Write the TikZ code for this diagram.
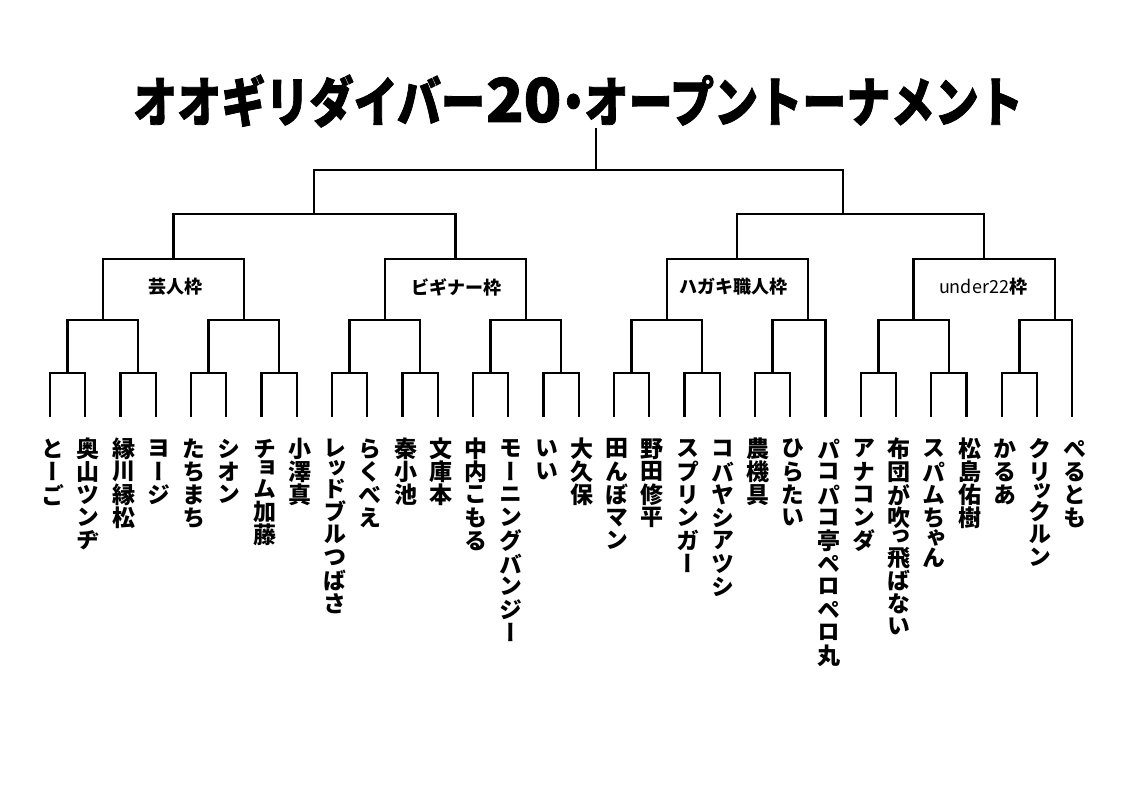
\documentclass[tikz,border=0pt]{standalone}
\usepackage{fontspec}
\newfontfamily\jp{Noto Sans CJK JP}
\newfontfamily\jpt[BoldFeatures={FakeBold=1.5}]{Noto Sans CJK JP}
\newfontfamily\jpv[RawFeature=+vert]{Noto Sans CJK JP}
\makeatletter
\def\vn@end{\vn@end}
\newcommand\vname[1]{\vbox{\offinterlineskip\expandafter\vn@loop#1\vn@end}}
\def\vn@loop#1{%
  \ifx#1\vn@end\else
    \ifcsname vn@small@#1\endcsname\def\vn@h{17pt}\else\def\vn@h{23pt}\fi
    \vbox to \vn@h{\vss\hbox to 24pt{\hss#1\hss}\vss}%
    \expandafter\vn@loop
  \fi}
\@namedef{vn@small@ッ}{}
\@namedef{vn@small@っ}{}
\@namedef{vn@small@ョ}{}
\@namedef{vn@small@ゃ}{}
\makeatother
\begin{document}
\begin{tikzpicture}[x=1pt,y=-1pt,
  br/.style={line width=2.3pt,line join=miter},
  titlestyle/.style={inner sep=0pt,font=\fontsize{54}{60}\selectfont\jpt\bfseries},
  catlabel/.style={inner sep=0pt,font=\fontsize{18}{20}\selectfont\jp\bfseries},
  leafname/.style={inner sep=0pt,anchor=north,font=\fontsize{23}{23}\selectfont\jpv\bfseries}]
\useasboundingbox (0,0) rectangle (1122,793);
\fill[white] (0,0) rectangle (1122,793);
\node[titlestyle] (title) at (578,101) {\scalebox{0.817}[1]{オオギリダイバー\makebox[1.75em]{\scalebox{1.4}[1.12]{20}}\makebox[0.5em]{・}オープントーナメント}};
\coordinate (tf) at (596,128);
% leaves
\foreach \i/\nm in {0/とーご,1/奥山ツンヂ,2/縁川縁松,3/ヨージ,4/たちまち,5/シオン,6/チョム加藤,7/小澤真,
  8/レッドブルつばさ,9/らくべえ,10/秦小池,11/文庫本,12/中内こもる,13/モーニングバンジー,14/いい,15/大久保,
  16/田んぼマン,17/野田修平,18/スプリンガー,19/コバヤシアツシ,20/農機具,21/ひらたい,22/パコパコ亭ペロペロ丸,
  23/アナコンダ,24/布団が吹っ飛ばない,25/スパムちゃん,26/松島佑樹,27/かるあ,28/クリックルン,29/ぺるとも}{
  \pgfmathsetmacro\xx{50+35.25*\i}
  \coordinate (L\i) at (\xx,417);
  \node[leafname] (n\i) at (\xx+3,437) {\vname{\nm}};
}
% pair level
\coordinate (P0) at (67.6,373);  \coordinate (P1) at (138.1,373);
\coordinate (P2) at (208.6,373); \coordinate (P3) at (279.1,373);
\coordinate (P4) at (349.6,373); \coordinate (P5) at (420.1,373);
\coordinate (P6) at (490.6,373); \coordinate (P7) at (561.1,373);
\coordinate (P8) at (631.6,373); \coordinate (P9) at (702.1,373);
\coordinate (P10) at (772.6,373);
\coordinate (P11) at (878.4,373); \coordinate (P12) at (948.9,373);
\coordinate (P13) at (1019.4,373);
% sub level
\coordinate (S0) at (102.9,320); \coordinate (S1) at (243.9,320);
\coordinate (S2) at (384.9,320); \coordinate (S3) at (525.9,320);
\coordinate (S4) at (666.9,320); \coordinate (S5) at (808,320);
\coordinate (S6) at (913.6,320); \coordinate (S7) at (1055,320);
% category level
\coordinate (C0) at (173.4,259); \coordinate (C1) at (455.4,259);
\coordinate (C2) at (737,259);   \coordinate (C3) at (984,259);
% half level
\coordinate (H0) at (314,214); \coordinate (H1) at (843,214);
\coordinate (T) at (596,170);
% brackets
\foreach \a/\b/\p in {0/1/0,2/3/1,4/5/2,6/7/3,8/9/4,10/11/5,12/13/6,14/15/7,16/17/8,18/19/9,20/21/10,23/24/11,25/26/12,27/28/13}{
  \draw[br] (L\a) |- (P\p) -| (L\b);
}
\draw[br] (P0) |- (S0) -| (P1);
\draw[br] (P2) |- (S1) -| (P3);
\draw[br] (P4) |- (S2) -| (P5);
\draw[br] (P6) |- (S3) -| (P7);
\draw[br] (P8) |- (S4) -| (P9);
\draw[br] (P10) |- (S5) -| (L22);
\draw[br] (P11) |- (S6) -| (P12);
\draw[br] (P13) |- (S7) -| (L29);
\draw[br] (S0) |- (C0) -| (S1);
\draw[br] (S2) |- (C1) -| (S3);
\draw[br] (S4) |- (C2) -| (S5);
\draw[br] (S6) |- (C3) -| (S7);
\draw[br] (C0) |- (H0) -| (C1);
\draw[br] (C2) |- (H1) -| (C3);
\draw[br] (H0) |- (T) -| (H1);
\draw[br] (T) -- (tf);
% category labels
\node[catlabel] (lab0) at (175,287) {芸人枠};
\node[catlabel] (lab1) at (456,287) {ビギナー枠};
\node[catlabel] (lab2) at (733,287) {ハガキ職人枠};
\node[catlabel] (lab3) at (983,287) {{\mdseries under22}枠};
\end{tikzpicture}
\end{document}
